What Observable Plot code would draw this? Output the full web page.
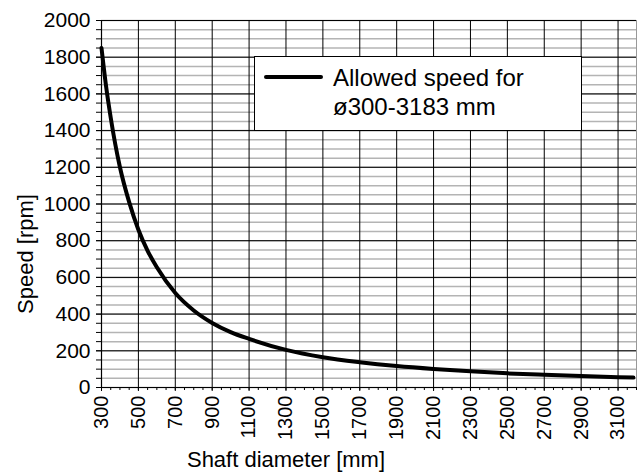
<!DOCTYPE html>
<html>
<head>
<meta charset="utf-8">
<script src="https://cdn.jsdelivr.net/npm/d3@7"></script>
<script src="https://cdn.jsdelivr.net/npm/@observablehq/plot@0.6"></script>
<style>
  body { margin: 0; background: #fff; }
  #chart { width: 640px; height: 472px; }
</style>
</head>
<body>
<div id="chart"></div>
<script>
// Data
const diameters = [300, 325, 350, 400, 450, 500, 550, 600, 700, 800, 900, 1000, 1100, 1300, 1500, 1700, 1900, 2100, 2300, 2500, 2700, 2900, 3100, 3183];
const speeds    = [1850, 1640, 1470, 1200, 1010, 860, 745, 655, 515, 420, 352, 302, 265, 205, 165, 138, 117, 101, 88, 77, 69, 62, 56, 54];
const xTickLabels = [300, 500, 700, 900, 1100, 1300, 1500, 1700, 1900, 2100, 2300, 2500, 2700, 2900, 3100];
const yTickLabels = [0, 200, 400, 600, 800, 1000, 1200, 1400, 1600, 1800, 2000];
const xMinor = d3.range(300, 3201, 50);
const yMinor = d3.range(0, 2001, 50);
const seriesName = ["Allowed speed for", "ø300-3183 mm"];
const xTitle = "Shaft diameter [mm]";
const yTitle = "Speed [rpm]";

const data = diameters.map((d, i) => ({d, s: speeds[i]}));
const fmt = d3.format("d");

const chart = Plot.plot({
  width: 640,
  height: 472,
  marginLeft: 101,
  marginRight: 4,
  marginTop: 20,
  marginBottom: 85,
  style: {fontFamily: "'Liberation Sans', Arial, sans-serif", fontSize: "20px", background: "#fff"},
  x: {domain: [300, 3200]},
  y: {domain: [0, 2000]},
  marks: [
    Plot.ruleY(yMinor, {stroke: "#b4b4b4", strokeWidth: 1.5}),
    Plot.ruleY(yTickLabels, {stroke: "#000", strokeWidth: 1}),
    Plot.ruleX(xTickLabels, {stroke: "#000", strokeWidth: 1}),
    Plot.ruleX([3200], {stroke: "#999", strokeWidth: 1}),
    Plot.axisY({ticks: yMinor, tickSize: 5, tickFormat: () => "", label: null}),
    Plot.axisY({ticks: yTickLabels, tickSize: 5, tickPadding: 6, tickFormat: fmt, label: null, fontSize: 21}),
    Plot.axisX({ticks: xMinor, tickSize: 3, tickFormat: () => "", label: null}),
    Plot.axisX({ticks: xTickLabels, tickSize: 4, tickPadding: 4, tickRotate: -90, tickFormat: fmt, label: null, fontSize: 20}),
    Plot.ruleX([300], {stroke: "#000", strokeWidth: 1.2}),
    Plot.ruleY([0], {stroke: "#000", strokeWidth: 1.2}),
    Plot.line(data, {x: "d", y: "s", stroke: "#000", strokeWidth: 4, curve: "monotone-x"})
  ]
});

const svg = d3.select(chart);
// Axis titles
svg.append("text").attr("x", 286).attr("y", 467).attr("text-anchor", "middle")
  .style("font-size", "22px").attr("fill", "#000").text(xTitle);
svg.append("text").attr("transform", "translate(33,254) rotate(-90)").attr("text-anchor", "middle")
  .style("font-size", "22px").attr("fill", "#000").text(yTitle);
// Legend
const lg = svg.append("g").attr("text-anchor", "start");
lg.append("rect").attr("x", 254.5).attr("y", 56.5).attr("width", 327).attr("height", 74)
  .attr("fill", "#fff").attr("stroke", "#000").attr("stroke-width", 1);
lg.append("line").attr("x1", 266).attr("x2", 321).attr("y1", 77).attr("y2", 77)
  .attr("stroke", "#000").attr("stroke-width", 4).attr("stroke-linecap", "round");
lg.append("text").attr("x", 333).attr("y", 86).attr("text-anchor", "start").style("font-size", "24px").attr("fill", "#000").text(seriesName[0]);
lg.append("text").attr("x", 333).attr("y", 115).attr("text-anchor", "start").style("font-size", "24px").attr("fill", "#000").text(seriesName[1]);

document.getElementById("chart").appendChild(chart);
</script>
</body>
</html>
